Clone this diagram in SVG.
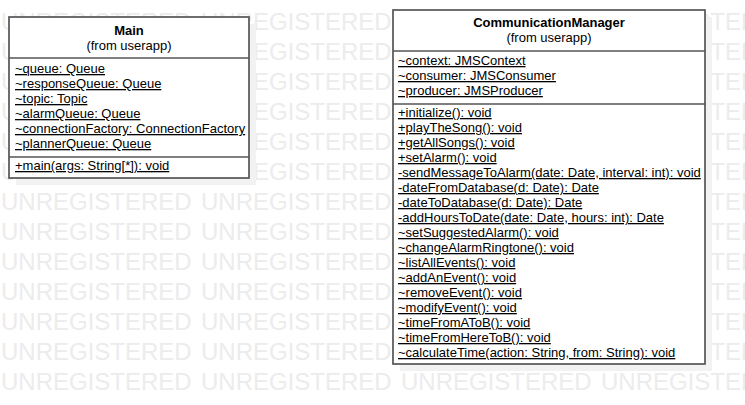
<svg xmlns="http://www.w3.org/2000/svg" width="745" height="405" viewBox="0 0 745 405">
<style>
.wm{font-family:"Liberation Sans",Arial,sans-serif;font-size:24px;fill:#ececec}
.box{fill:#ffffff;stroke:#555555;stroke-width:1.7}
.sep{stroke:#555555;stroke-width:1.7}
.shadow{fill:#f2f2f2}
.t{font-family:"Liberation Sans",Arial,sans-serif;font-size:13px;fill:#000000}
.title{font-weight:bold;text-anchor:middle}
.sub{text-anchor:middle}
.u{text-decoration:underline}
</style>
<rect width="745" height="405" fill="#ffffff"/>
<g id="watermark" class="wm">
<text x="1" y="30">UNREGISTERED</text><text x="201" y="30">UNREGISTERED</text><text x="401" y="30">UNREGISTERED</text><text x="601" y="30">UNREGISTERED</text>
<text x="1" y="60">UNREGISTERED</text><text x="201" y="60">UNREGISTERED</text><text x="401" y="60">UNREGISTERED</text><text x="601" y="60">UNREGISTERED</text>
<text x="1" y="90">UNREGISTERED</text><text x="201" y="90">UNREGISTERED</text><text x="401" y="90">UNREGISTERED</text><text x="601" y="90">UNREGISTERED</text>
<text x="1" y="120">UNREGISTERED</text><text x="201" y="120">UNREGISTERED</text><text x="401" y="120">UNREGISTERED</text><text x="601" y="120">UNREGISTERED</text>
<text x="1" y="150">UNREGISTERED</text><text x="201" y="150">UNREGISTERED</text><text x="401" y="150">UNREGISTERED</text><text x="601" y="150">UNREGISTERED</text>
<text x="1" y="180">UNREGISTERED</text><text x="201" y="180">UNREGISTERED</text><text x="401" y="180">UNREGISTERED</text><text x="601" y="180">UNREGISTERED</text>
<text x="1" y="210">UNREGISTERED</text><text x="201" y="210">UNREGISTERED</text><text x="401" y="210">UNREGISTERED</text><text x="601" y="210">UNREGISTERED</text>
<text x="1" y="240">UNREGISTERED</text><text x="201" y="240">UNREGISTERED</text><text x="401" y="240">UNREGISTERED</text><text x="601" y="240">UNREGISTERED</text>
<text x="1" y="270">UNREGISTERED</text><text x="201" y="270">UNREGISTERED</text><text x="401" y="270">UNREGISTERED</text><text x="601" y="270">UNREGISTERED</text>
<text x="1" y="300">UNREGISTERED</text><text x="201" y="300">UNREGISTERED</text><text x="401" y="300">UNREGISTERED</text><text x="601" y="300">UNREGISTERED</text>
<text x="1" y="330">UNREGISTERED</text><text x="201" y="330">UNREGISTERED</text><text x="401" y="330">UNREGISTERED</text><text x="601" y="330">UNREGISTERED</text>
<text x="1" y="360">UNREGISTERED</text><text x="201" y="360">UNREGISTERED</text><text x="401" y="360">UNREGISTERED</text><text x="601" y="360">UNREGISTERED</text>
<text x="1" y="390">UNREGISTERED</text><text x="201" y="390">UNREGISTERED</text><text x="401" y="390">UNREGISTERED</text><text x="601" y="390">UNREGISTERED</text>
</g>
<g id="connectors"></g>
<g id="Main">
<rect class="shadow" x="16" y="24" width="240" height="161"/>
<rect class="box" x="9" y="17" width="240" height="161"/>
<line class="sep" x1="9" y1="58" x2="249" y2="58"/>
<line class="sep" x1="9" y1="157" x2="249" y2="157"/>
<text class="t title" x="129" y="35">Main</text>
<text class="t sub" x="129" y="50">(from userapp)</text>
<text class="t u" x="15" y="73">~queue: Queue</text>
<text class="t u" x="15" y="88">~responseQueue: Queue</text>
<text class="t u" x="15" y="103">~topic: Topic</text>
<text class="t u" x="15" y="118">~alarmQueue: Queue</text>
<text class="t u" x="15" y="133">~connectionFactory: ConnectionFactory</text>
<text class="t u" x="15" y="148">~plannerQueue: Queue</text>
<text class="t u" x="15" y="170">+main(args: String[*]): void</text>
</g>
<g id="CommunicationManager">
<rect class="shadow" x="400" y="17" width="312" height="354"/>
<rect class="box" x="393" y="10" width="312" height="354"/>
<line class="sep" x1="393" y1="51" x2="705" y2="51"/>
<line class="sep" x1="393" y1="104" x2="705" y2="104"/>
<text class="t title" x="549" y="27">CommunicationManager</text>
<text class="t sub" x="549" y="42">(from userapp)</text>
<text class="t u" x="398" y="65">~context: JMSContext</text>
<text class="t u" x="398" y="80">~consumer: JMSConsumer</text>
<text class="t u" x="398" y="95">~producer: JMSProducer</text>
<text class="t u" x="398" y="117">+initialize(): void</text>
<text class="t u" x="398" y="132">+playTheSong(): void</text>
<text class="t u" x="398" y="147">+getAllSongs(): void</text>
<text class="t u" x="398" y="162">+setAlarm(): void</text>
<text class="t u" x="398" y="177">-sendMessageToAlarm(date: Date, interval: int): void</text>
<text class="t u" x="398" y="192">-dateFromDatabase(d: Date): Date</text>
<text class="t u" x="398" y="207">-dateToDatabase(d: Date): Date</text>
<text class="t u" x="398" y="222">-addHoursToDate(date: Date, hours: int): Date</text>
<text class="t u" x="398" y="237">~setSuggestedAlarm(): void</text>
<text class="t u" x="398" y="252">~changeAlarmRingtone(): void</text>
<text class="t u" x="398" y="267">~listAllEvents(): void</text>
<text class="t u" x="398" y="282">~addAnEvent(): void</text>
<text class="t u" x="398" y="297">~removeEvent(): void</text>
<text class="t u" x="398" y="312">~modifyEvent(): void</text>
<text class="t u" x="398" y="327">~timeFromAToB(): void</text>
<text class="t u" x="398" y="342">~timeFromHereToB(): void</text>
<text class="t u" x="398" y="357">~calculateTime(action: String, from: String): void</text>
</g>
</svg>
